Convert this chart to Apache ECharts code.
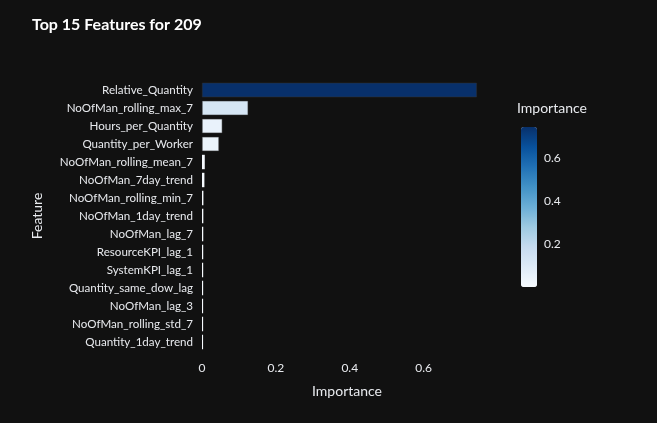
<!DOCTYPE html>
<html>
<head>
<meta charset="utf-8">
<script src="https://cdn.jsdelivr.net/npm/echarts@6/dist/echarts.min.js"></script>
<style>
  html, body { margin: 0; padding: 0; background: #111111; }
  #chart { width: 657px; height: 423px; }
</style>
</head>
<body>
<div id="chart"></div>
<script>
// feature names, top to bottom
const features = [
  'Relative_Quantity', 'NoOfMan_rolling_max_7', 'Hours_per_Quantity', 'Quantity_per_Worker',
  'NoOfMan_rolling_mean_7', 'NoOfMan_7day_trend', 'NoOfMan_rolling_min_7', 'NoOfMan_1day_trend',
  'NoOfMan_lag_7', 'ResourceKPI_lag_1', 'SystemKPI_lag_1', 'Quantity_same_dow_lag',
  'NoOfMan_lag_3', 'NoOfMan_rolling_std_7', 'Quantity_1day_trend'
]
// importance
const importance = [
  0.744, 0.125, 0.055, 0.046,
  0.0075, 0.0065, 0.0038, 0.0036,
  0.0034, 0.0033, 0.0032, 0.0031,
  0.003, 0.003, 0.0029
]
const xTicks = [0, 0.2, 0.4, 0.6]
const barTicks = [0.2, 0.4, 0.6]
// plotly "Blues"
const blues = ['#f7fbff', '#deebf7', '#c6dbef', '#9ecae1', '#6baed6', '#4292c6', '#2171b5', '#08519c', '#08306b']

const txt = '#e8eaee'
const font = 'Lato, "Noto Sans", sans-serif'
const vmin = Math.min(...importance)
const vmax = Math.max(...importance)

// thin bars are drawn without the dark outline so they stay bright
const barData = importance.map(v => ({
  value: v,
  itemStyle: v < 0.01 ? { borderWidth: 0 } : { borderColor: '#333333', borderWidth: 0.5 }
}))

const myChart = echarts.init(document.getElementById('chart'))
const option = {
  backgroundColor: '#111111',
  textStyle: { fontFamily: font, color: txt },
  title: [
    {
      text: 'Top 15 Features for 209',
      left: 32,
      top: 17,
      padding: 0,
      textStyle: { color: '#ffffff', fontSize: 16, fontWeight: 'bold', fontFamily: font }
    },
    {
      // colourbar title
      text: 'Importance',
      left: 517,
      top: 101,
      padding: 0,
      textStyle: { color: txt, fontSize: 14, fontWeight: 'normal', fontFamily: font }
    }
  ],
  grid: [
    { left: 202, top: 81, width: 290, height: 270 },
    { left: 521, top: 127, width: 16, height: 160 }
  ],
  xAxis: [
    {
      gridIndex: 0,
      type: 'value',
      min: 0,
      max: 0.785,
      interval: 0.2,
      name: 'Importance',
      nameLocation: 'middle',
      nameGap: 33,
      nameTextStyle: { color: txt, fontSize: 14, fontFamily: font },
      splitLine: { show: false },
      axisLine: { show: false },
      axisTick: { show: false },
      axisLabel: { color: txt, fontSize: 12, margin: 11, showMaxLabel: false,
        formatter: v => xTicks.includes(+v.toFixed(2)) ? String(+v.toFixed(2)) : '' }
    },
    { gridIndex: 1, type: 'value', show: false }
  ],
  yAxis: [
    {
      gridIndex: 0,
      type: 'category',
      data: features,
      inverse: true,
      name: 'Feature',
      nameLocation: 'middle',
      nameGap: 158,
      nameTextStyle: { color: txt, fontSize: 14, fontFamily: font },
      axisLine: { show: false },
      axisTick: { show: false },
      axisLabel: { color: txt, fontSize: 11.6, margin: 9 }
    },
    {
      gridIndex: 1,
      type: 'value',
      position: 'right',
      min: vmin,
      max: vmax,
      splitLine: { show: false },
      axisLine: { show: false },
      axisTick: { show: false },
      axisLabel: { color: txt, fontSize: 12, margin: 7, customValues: barTicks }
    }
  ],
  visualMap: {
    type: 'continuous',
    min: vmin,
    max: vmax,
    dimension: 0,
    seriesIndex: 0,
    calculable: false,
    left: 521,
    top: 127,
    itemWidth: 16,
    itemHeight: 160,
    padding: 0,
    text: null,
    showLabel: false,
    inRange: { color: blues }
  },
  series: [
    {
      type: 'bar',
      xAxisIndex: 0,
      yAxisIndex: 0,
      data: barData,
      barCategoryGap: '20%'
    }
  ]
}
myChart.setOption(option)
</script>
</body>
</html>
